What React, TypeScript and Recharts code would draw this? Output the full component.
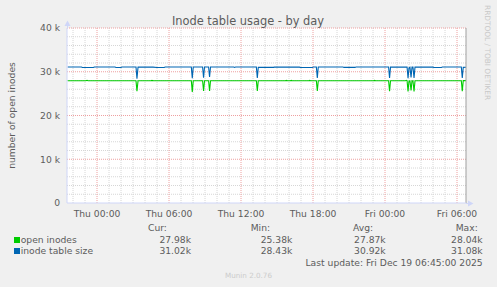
import React from "react";
import { LineChart, Line, XAxis, YAxis, CartesianGrid, ReferenceLine } from "recharts";

// hours relative to Thu 00:00, one entry per sample where something changes
const hours = [
  -2.45, -1.3, -1.22, -0.92, -0.83, -0.75, -0.3, -0.22, 1.5, 1.58, 2.0, 2.08,
  3.25, 3.33, 3.42, 4.5, 4.58, 4.67, 5.0, 5.6, 5.68,
  7.86, 7.94, 8.02, 8.8, 8.88, 8.96, 9.3, 9.38, 9.46,
  11.4, 11.46, 11.55, 13.28, 13.36, 13.44, 14.7, 14.78,
  15.7, 15.78, 15.86, 16.1, 16.19, 16.27, 16.87, 16.95,
  17.64, 17.72, 17.8, 17.95, 18.03, 18.28, 18.36, 18.44,
  20.5, 20.58, 21.5, 21.58, 23.05, 23.13, 23.21,
  24.3, 24.38, 24.46, 25.7, 25.78, 25.84, 25.92, 26.0, 26.08, 26.17, 26.25, 26.33, 26.42, 26.5,
  28.0, 28.08, 28.7, 28.78, 30.36, 30.44, 30.52, 30.75,
];
const openInodes = [
  27930, 27930, 27930, 27930, 28040, 27930, 27930, 27930, 27930, 27930, 27930, 27930,
  27930, 25550, 27930, 27930, 28010, 27930, 27930, 27930, 27930,
  27930, 25380, 27930, 27930, 25600, 27930, 27930, 25600, 27930,
  27930, 27930, 27930, 27930, 25600, 27930, 27930, 27930,
  27930, 28020, 27930, 27930, 28020, 27930, 27930, 27930,
  27930, 28020, 27930, 27930, 27930, 27930, 25600, 27930,
  27930, 27930, 27930, 27930, 27930, 28020, 27930,
  27930, 25550, 27930, 27930, 28030, 27930, 25500, 27900, 27930, 25700, 27930, 27930, 25500, 27930,
  27930, 27930, 27930, 27930, 27930, 25550, 27980, 27980,
];
const inodeTableSize = [
  31080, 31080, 30960, 30960, 30960, 30960, 30960, 31080, 31080, 30980, 30980, 31080,
  31080, 28430, 31060, 31060, 31060, 31060, 30970, 30970, 31070,
  31070, 28500, 31070, 31070, 28660, 31070, 31070, 28800, 31070,
  31070, 30990, 31070, 31070, 28600, 31000, 31000, 31060,
  31060, 31060, 31060, 31060, 31060, 31060, 31060, 30980,
  30980, 30980, 30980, 30980, 31070, 31070, 28600, 31070,
  31070, 30990, 30990, 31070, 31070, 31070, 31070,
  31070, 28600, 31050, 31050, 31050, 31050, 28550, 30900, 31050, 28700, 31050, 31050, 28600, 31050,
  31050, 30980, 30980, 31070, 31070, 28600, 31000, 31020,
];

const xTicks = [0, 6, 12, 18, 24, 30];
const xTickLabels = ["Thu 00:00", "Thu 06:00", "Thu 12:00", "Thu 18:00", "Fri 00:00", "Fri 06:00"];
const yTicks = [0, 10000, 20000, 30000, 40000];

const seriesNames = ["open inodes", "inode table size"];
const seriesColors = ["#00cc00", "#0066b3"];
const curValues = ["27.98k", "31.02k"];
const minValues = ["25.38k", "28.43k"];
const avgValues = ["27.87k", "30.92k"];
const maxValues = ["28.04k", "31.08k"];

const FONT = '"DejaVu Sans", sans-serif';
const TEXT = "#5c5c5c";

const range = (a: number, b: number, step: number) => {
  const out: number[] = [];
  for (let v = a; v <= b; v += step) out.push(v);
  return out;
};
const minorX = range(-2, 30, 1).filter((h) => h % 6 !== 0);
const majorX = range(0, 30, 6);
const minorY = range(2000, 38000, 2000).filter((v) => v % 10000 !== 0);
const majorY = [10000, 20000, 30000, 40000];

export default function App() {
  const data = hours.map((h, i) => ({ h, open: openInodes[i], size: inodeTableSize[i] }));
  const tick = { fill: TEXT, fontSize: 9.2, fontFamily: FONT };

  return (
    <div style={{ position: "absolute", left: 0, top: 0, width: 497, height: 287, background: "#f0f0f0" }}>
      <LineChart width={497} height={287} data={data} margin={{ top: 28, right: 31, bottom: 64, left: 7 }}>
        <CartesianGrid fill="#ffffff" horizontal={false} vertical={false} />
        {minorX.map((h) => (
          <ReferenceLine key={"mx" + h} x={h} stroke="#d6d6d6" strokeDasharray="1 1" />
        ))}
        {minorY.map((v) => (
          <ReferenceLine key={"my" + v} y={v} stroke="#d6d6d6" strokeDasharray="1 1" />
        ))}
        {majorX.map((h) => (
          <ReferenceLine key={"Mx" + h} x={h} stroke="#eea0a0" strokeDasharray="1 1" />
        ))}
        {majorY.map((v) => (
          <ReferenceLine key={"My" + v} y={v} stroke="#eea0a0" strokeDasharray="1 1" />
        ))}
        <XAxis
          type="number"
          dataKey="h"
          domain={[-2.5, 30.75]}
          allowDataOverflow
          ticks={xTicks}
          interval={0}
          tickFormatter={(v: number) => xTickLabels[xTicks.indexOf(v)]}
          tick={tick}
          tickLine={false}
          tickSize={4}
          tickMargin={3}
          height={20}
          axisLine={{ stroke: "#cfd6f8" }}
        />
        <YAxis
          type="number"
          domain={[0, 40000]}
          ticks={yTicks}
          interval={0}
          tickFormatter={(v: number) => (v === 0 ? "0" : `${v / 1000} k`)}
          tick={tick}
          tickLine={false}
          tickMargin={1}
          width={60}
          axisLine={{ stroke: "#cfd6f8" }}
        />
        <Line dataKey="open" type="linear" stroke={seriesColors[0]} strokeWidth={1.1} dot={false} isAnimationActive={false} />
        <Line dataKey="size" type="linear" stroke={seriesColors[1]} strokeWidth={1.1} dot={false} isAnimationActive={false} />
        <ReferenceLine x={30.75} stroke="#a0a0a0" />
      </LineChart>
      <svg
        width={497}
        height={287}
        style={{ position: "absolute", left: 0, top: 0, pointerEvents: "none" }}
        fontFamily={FONT}
      >
        <text x={248} y={25} textAnchor="middle" fontSize={11.4} fill={TEXT}>
          Inode table usage - by day
        </text>
        <text x={15} y={115.5} textAnchor="middle" fontSize={9.2} fill={TEXT} transform="rotate(-90 15 115.5)">
          number of open inodes
        </text>
        <text x={484.5} y={5} fontSize={7.4} fill="#c8c8c8" transform="rotate(90 484.5 5)">
          RRDTOOL / TOBI OETIKER
        </text>
        {/* axis arrows */}
        <line x1={67.5} y1={28} x2={67.5} y2={24} stroke="#cfd6f8" />
        <polygon points="64.5,26 70.5,26 67.5,20.5" fill="#cfd6f8" />
        <line x1={466} y1={203.5} x2={469} y2={203.5} stroke="#cfd6f8" />
        <polygon points="468,200.5 468,206.5 473.5,203.5" fill="#cfd6f8" />
        {/* legend */}
        <text x={148} y={230.5} fontSize={9.2} fill={TEXT}>Cur:</text>
        <text x={250.7} y={230.5} fontSize={9.2} fill={TEXT}>Min:</text>
        <text x={353} y={230.5} fontSize={9.2} fill={TEXT}>Avg:</text>
        <text x={455.7} y={230.5} fontSize={9.2} fill={TEXT}>Max:</text>
        {seriesNames.map((name, i) => {
          const y = 243 + i * 11;
          return (
            <g key={name}>
              <rect x={14} y={y - 6} width={6} height={6} fill={seriesColors[i]} />
              <text x={20.7} y={y} fontSize={9.2} fill={TEXT}>{name}</text>
              <text x={191} y={y} fontSize={9.2} fill={TEXT} textAnchor="end">{curValues[i]}</text>
              <text x={292.3} y={y} fontSize={9.2} fill={TEXT} textAnchor="end">{minValues[i]}</text>
              <text x={385.7} y={y} fontSize={9.2} fill={TEXT} textAnchor="end">{avgValues[i]}</text>
              <text x={482.7} y={y} fontSize={9.2} fill={TEXT} textAnchor="end">{maxValues[i]}</text>
            </g>
          );
        })}
        <text x={482.7} y={266} fontSize={9.2} fill={TEXT} textAnchor="end">
          Last update: Fri Dec 19 06:45:00 2025
        </text>
        <text x={225} y={278} fontSize={7.2} fill="#cccccc">
          Munin 2.0.76
        </text>
      </svg>
    </div>
  );
}
